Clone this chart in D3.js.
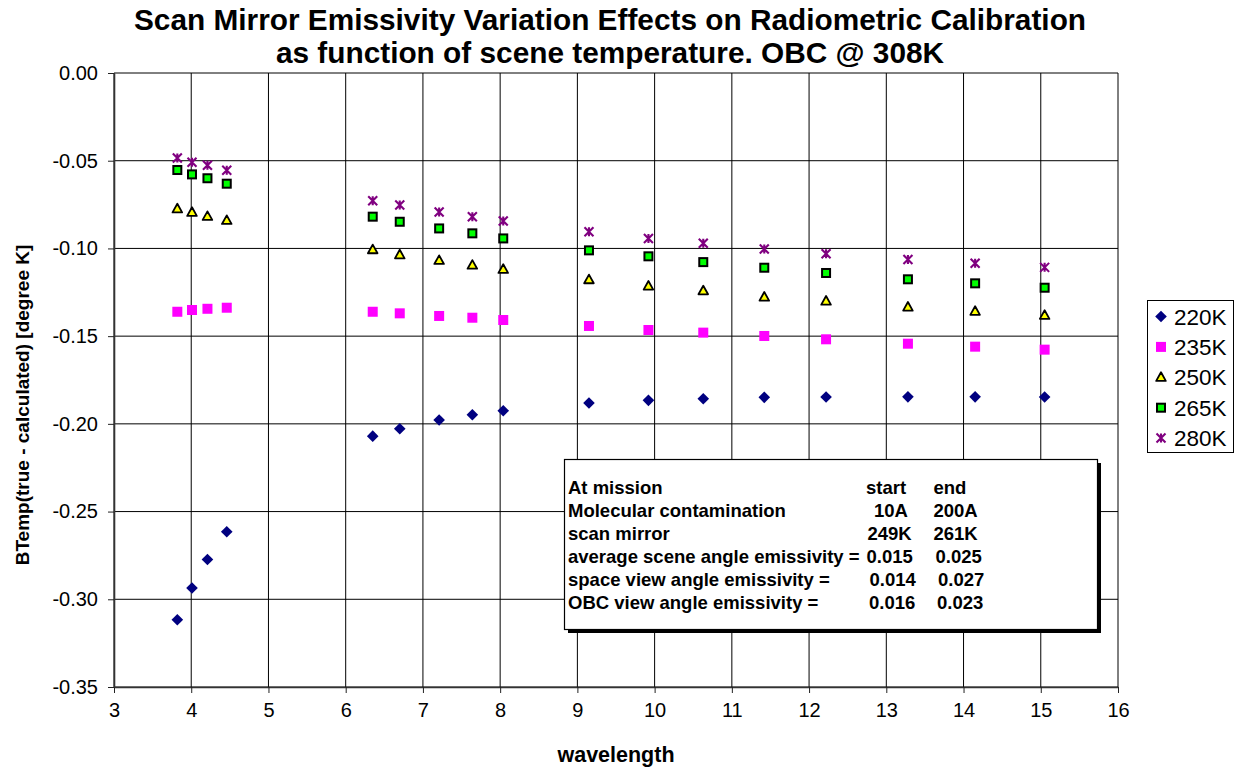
<!DOCTYPE html>
<html>
<head>
<meta charset="utf-8">
<script src="https://cdn.jsdelivr.net/npm/d3@7"></script>
<style>
  html, body { margin: 0; padding: 0; background: #fff; }
  svg { display: block; font-family: "Liberation Sans", Arial, sans-serif; }
</style>
</head>
<body>
<svg id="chart" width="1238" height="768"></svg>
<script>
// Wavelength of each band (micrometres)
const wavelengths = [3.82, 4.01, 4.21, 4.46, 6.35, 6.70, 7.21, 7.64, 8.04,
                     9.15, 9.92, 10.63, 11.42, 12.22, 13.28, 14.15, 15.05];

// Brightness temperature error (true - calculated) per scene temperature
const bt220 = [-0.3117, -0.2936, -0.2773, -0.2615, -0.2070, -0.2028, -0.1978, -0.1948, -0.1925,
               -0.1881, -0.1866, -0.1857, -0.1849, -0.1847, -0.1846, -0.1846, -0.1847];
const bt235 = [-0.1361, -0.1351, -0.1344, -0.1338, -0.1361, -0.1370, -0.1385, -0.1395, -0.1408,
               -0.1442, -0.1465, -0.1480, -0.1499, -0.1518, -0.1543, -0.1560, -0.1577];
const bt250 = [-0.0774, -0.0794, -0.0817, -0.0840, -0.1007, -0.1036, -0.1068, -0.1095, -0.1119,
               -0.1178, -0.1214, -0.1241, -0.1277, -0.1300, -0.1334, -0.1358, -0.1381];
const bt265 = [-0.0553, -0.0578, -0.0600, -0.0631, -0.0819, -0.0848, -0.0886, -0.0914, -0.0943,
               -0.1011, -0.1045, -0.1078, -0.1110, -0.1140, -0.1176, -0.1199, -0.1224];
const bt280 = [-0.0485, -0.0509, -0.0526, -0.0555, -0.0728, -0.0753, -0.0792, -0.0819, -0.0844,
               -0.0905, -0.0943, -0.0971, -0.1003, -0.1030, -0.1063, -0.1085, -0.1108];

const seriesNames = ["220K", "235K", "250K", "265K", "280K"];

// Axis ticks
const xTicks = [3, 4, 5, 6, 7, 8, 9, 10, 11, 12, 13, 14, 15, 16];
const yTicks = [0, -0.05, -0.10, -0.15, -0.20, -0.25, -0.30, -0.35];
const yTickLabels = ["0.00", "-0.05", "-0.10", "-0.15", "-0.20", "-0.25", "-0.30", "-0.35"];

// Annotation table
const noteRows = ["At mission", "Molecular contamination", "scan mirror",
                  "average scene angle emissivity =", "space view angle emissivity =",
                  "OBC view angle emissivity ="];
const noteStart = ["start", "10A", "249K", "0.015", "0.014", "0.016"];
const noteEnd = ["end", "200A", "261K", "0.025", "0.027", "0.023"];

const titleLines = ["Scan Mirror Emissivity Variation Effects on Radiometric Calibration",
                    "as function of scene temperature. OBC @ 308K"];

// ---------------------------------------------------------------------------
const svg = d3.select("#chart");
const plot = { left: 114, right: 1118, top: 73, bottom: 687 };

const x = d3.scaleLinear().domain([3, 16]).range([plot.left, plot.right]);
const y = d3.scaleLinear().domain([-0.35, 0]).range([plot.bottom, plot.top]);

// Marker styles per series
const markerStyle = {
  "220K": { shape: "diamond", fill: "#000080", stroke: "none" },
  "235K": { shape: "square", fill: "#ff00ff", stroke: "none" },
  "250K": { shape: "triangle", fill: "#ffff00", stroke: "#000" },
  "265K": { shape: "squareOutline", fill: "#00ff00", stroke: "#000" },
  "280K": { shape: "star", fill: "none", stroke: "#800080" }
};

function drawMarker(g, name, cx, cy) {
  const s = markerStyle[name];
  if (s.shape === "diamond") {
    g.append("path")
      .attr("d", `M${cx},${cy - 5.8}L${cx + 5.8},${cy}L${cx},${cy + 5.8}L${cx - 5.8},${cy}Z`)
      .attr("fill", s.fill);
  } else if (s.shape === "square") {
    g.append("rect").attr("x", cx - 5).attr("y", cy - 5)
      .attr("width", 10).attr("height", 10).attr("fill", s.fill);
  } else if (s.shape === "squareOutline") {
    g.append("rect").attr("x", cx - 4).attr("y", cy - 4)
      .attr("width", 8).attr("height", 8)
      .attr("fill", s.fill).attr("stroke", s.stroke).attr("stroke-width", 2);
  } else if (s.shape === "triangle") {
    g.append("path")
      .attr("d", `M${cx},${cy - 5}L${cx + 4.8},${cy + 3.6}L${cx - 4.8},${cy + 3.6}Z`)
      .attr("fill", s.fill).attr("stroke", s.stroke).attr("stroke-width", 1.8)
      .attr("stroke-linejoin", "round");
  } else if (s.shape === "star") {
    const r = 4.5;
    g.append("path")
      .attr("d", `M${cx - r},${cy - r}L${cx + r},${cy + r}M${cx - r},${cy + r}L${cx + r},${cy - r}M${cx},${cy - r}L${cx},${cy + r}`)
      .attr("stroke", s.stroke).attr("stroke-width", 2.1).attr("fill", "none");
  }
}

// Grid lines
const grid = svg.append("g");
grid.selectAll("line.v").data(xTicks).join("line")
  .attr("x1", d => x(d)).attr("x2", d => x(d))
  .attr("y1", plot.top).attr("y2", plot.bottom)
  .attr("stroke", "#000").attr("stroke-width", 1);
grid.selectAll("line.h").data(yTicks).join("line")
  .attr("x1", plot.left).attr("x2", plot.right)
  .attr("y1", d => y(d)).attr("y2", d => y(d))
  .attr("stroke", "#000").attr("stroke-width", 1);

// Axes
const xAxis = d3.axisBottom(x).tickValues(xTicks).tickSize(6).tickSizeOuter(0)
  .tickFormat(d3.format("d"));
const gx = svg.append("g").attr("transform", `translate(0,${plot.bottom})`).call(xAxis);
gx.select(".domain").attr("stroke", "#333").attr("stroke-width", 1.6);
gx.selectAll(".tick line").attr("stroke", "#222");
gx.selectAll(".tick text").attr("font-size", 20).attr("fill", "#000")
  .attr("font-family", "Liberation Sans, Arial, sans-serif").attr("dy", "1.05em");

const yAxis = d3.axisLeft(y).tickValues(yTicks).tickSize(6).tickSizeOuter(0)
  .tickFormat((d, i) => yTickLabels[i]);
const gy = svg.append("g").attr("transform", `translate(${plot.left},0)`).call(yAxis);
gy.select(".domain").attr("stroke", "#333").attr("stroke-width", 1.6);
gy.selectAll(".tick line").attr("stroke", "#222");
gy.selectAll(".tick text").attr("font-size", 20).attr("fill", "#000")
  .attr("font-family", "Liberation Sans, Arial, sans-serif").attr("x", -16);

// Data points
const seriesValues = [bt220, bt235, bt250, bt265, bt280];
const pts = svg.append("g");
seriesNames.forEach((name, si) => {
  const sg = pts.append("g");
  wavelengths.forEach((w, i) => drawMarker(sg, name, x(w), y(seriesValues[si][i])));
});

// Annotation box with drop shadow
const note = svg.append("g");
note.append("rect").attr("x", 568).attr("y", 463).attr("width", 533).attr("height", 170).attr("fill", "#000");
note.append("rect").attr("x", 564.5).attr("y", 459.5).attr("width", 533).attr("height", 170)
  .attr("fill", "#fff").attr("stroke", "#000").attr("stroke-width", 1.2);
const noteText = note.append("g").attr("font-weight", "bold").attr("font-size", 18.5).attr("fill", "#000");
const startX = [866, 874, 867.5, 866.5, 869.5, 869];
const endX = [933.5, 933.5, 933.5, 935.5, 938, 937];
noteRows.forEach((t, i) => {
  const by = 494 + i * 22.9;
  noteText.append("text").attr("x", 568).attr("y", by).text(t);
  noteText.append("text").attr("x", startX[i]).attr("y", by).text(noteStart[i]);
  noteText.append("text").attr("x", endX[i]).attr("y", by).text(noteEnd[i]);
});

// Legend
const legend = svg.append("g");
legend.append("rect").attr("x", 1147.5).attr("y", 300.5).attr("width", 86).attr("height", 152)
  .attr("fill", "#fff").attr("stroke", "#000").attr("stroke-width", 1);
seriesNames.forEach((name, i) => {
  const cy = 316.5 + i * 30.4;
  drawMarker(legend, name, 1161, cy);
  legend.append("text").attr("x", 1174).attr("y", cy).attr("dy", "0.36em")
    .attr("font-size", 22.5).attr("fill", "#000").text(name);
});

// Titles
svg.append("g").selectAll("text").data(titleLines).join("text")
  .attr("x", 610).attr("y", (d, i) => 30 + i * 33)
  .attr("text-anchor", "middle").attr("font-weight", "bold").attr("font-size", 29.8)
  .attr("fill", "#000").text(d => d);

svg.append("text")
  .attr("transform", `translate(29,405) rotate(-90)`)
  .attr("text-anchor", "middle").attr("font-weight", "bold").attr("font-size", 19)
  .attr("fill", "#000").text("BTemp(true - calculated) [degree K]");

svg.append("text")
  .attr("x", 616).attr("y", 762)
  .attr("text-anchor", "middle").attr("font-weight", "bold").attr("font-size", 21.5)
  .attr("fill", "#000").text("wavelength");
</script>
</body>
</html>
